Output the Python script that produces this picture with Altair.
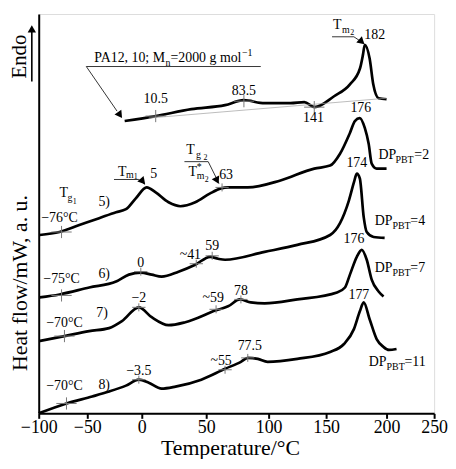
import altair as alt
import pandas as pd

# ---------------- data (temperature in °C, heat flow in arbitrary units) -------------
x_ticks = [-100, -50, 0, 50, 100, 150, 200, 250]

pa_t = [-15.7, 10.8, 38.5, 65.1, 80.0, 96.8, 119, 131, 140, 156.6, 169.7, 178, 180.5, 182, 186, 189, 193.4, 200]
pa_h = [295, 300, 307, 311, 316, 313, 313, 314, 309, 320, 332, 348, 362, 372, 358, 332, 318, 317]

dp2_t = [-99, -78.6, -58.2, -39.1, -23.6, -14.5, -5.5, 3.8, 10.8, 20.8, 30, 41.5, 53.2, 61.9, 67.5, 83.3,
         110.3, 139.7, 153.3, 161.5, 169.7, 173.8, 177.9, 182, 185.2, 187.7, 191.8, 200]
dp2_h = [180, 183, 190, 197, 203, 206, 217, 228, 223, 213, 209, 213, 222, 227, 228, 228,
         235, 247, 250, 262, 283, 295, 298, 288, 272, 252, 247, 247]

dp4_t = [-99, -78.6, -48.2, -23.6, -11.8, -0.9, 7.7, 15.4, 28.5, 41.5, 53.2, 59.5, 65.1, 96.8, 125,
         153.3, 161.5, 168.9, 173, 175.4, 177.9, 181.1, 183.6, 189.3, 198.4]
dp4_h = [117, 120, 127, 133, 140, 142, 140, 138, 143, 150, 158, 156, 155, 163, 170,
         180, 192, 215, 233, 242, 237, 198, 183, 178, 177]

dp7_t = [-99, -73.5, -48.2, -30, -18.2, -2.7, 7.7, 20.8, 33.8, 57.9, 67.5, 77, 85.7, 96.8, 125,
         159, 165.6, 169.7, 175.4, 179.5, 183.6, 187.7, 193.4, 197.5]
dp7_h = [73, 78, 83, 86, 93, 107, 97, 89, 92, 104, 108, 115, 112, 111, 115,
         122, 127, 140, 158, 165, 155, 135, 123, 118]

dp11_t = [-100, -71.4, -45.5, -30, -14.5, -2.7, 5.4, 15.4, 26.2, 46.2, 65.1, 77.8, 83.3, 91.3, 99.2,
          125, 153.3, 164.8, 173, 177.9, 181.1, 186, 191.8, 197.5, 202.5, 210.5]
dp11_h = [0, 10, 17, 22, 28, 34, 31, 25, 27, 34, 45, 52, 56, 55, 52,
          55, 62, 70, 85, 103, 112, 95, 75, 67, 64, 65]

# transition markers (crosses)
mark_t = [10.8, 80.2, 139.7, -76.5, 62.7, -76.5, -0.9, 42.3, 54.8, -73.5, -2.7, 57.9, 77.8, -71.4, -2.7, 65.1, 83.3]
mark_h = [300, 315, 309, 183, 228, 119, 143, 151, 159, 78, 107, 105, 115, 10, 34, 44, 56]
mark_big = [1, 1, 1, 1, 0, 1, 0, 0, 0, 1, 0, 0, 0, 1, 0, 0, 0]

# leader lines (segment id, t, h)
lead_seg = ["pa", "pa", "pa", "tm2", "tm2", "tm2", "tm1", "tm1", "tm1", "tg2", "tg2", "tg2", "endo", "endo", "base", "base"]
lead_t = [93.7, -51.0, -22.7, 154.9, 173, 180.3, -25.5, -2.7, 2.3, 33.1, 51.6, 60.3, -107.1, -107.1, 5.4, 200]
lead_h = [350, 350, 305, 380, 380, 374, 236, 236, 231, 254, 254, 232, 335, 385, 298, 318]

# arrow heads
head_t = [-20.0, 179.5, 0.8, 58.7, -107.1]
head_h = [301, 375, 234, 235, 388]
head_a = [145, 132, 139, 153, 0]

# labels centred
c_text = ["10.5", "83.5", "141", "182", "176", "174", "176", "177", "5)", "−76°C", "5", "63",
          "−75°C", "6)", "0", "~41", "59", "−70°C", "7)", "−2", "~59", "78",
          "−70°C", "8)", "−3.5", "~55", "77.5"]
c_t = [10.8, 80.2, 139, 190.2, 178.7, 175.4, 173, 177.1, -34.5, -78.6, 9.2, 65.9,
       -76.5, -34.5, -0.9, 37.7, 54.8, -73.5, -36.4, -2.7, 55.6, 77.8,
       -73.5, -34.5, -2.7, 61.9, 84.9]
c_h = [313, 321, 294, 378, 304, 249, 172, 115, 209, 193, 238, 237,
       132, 137, 148, 156, 165, 87, 97, 112, 112, 119,
       24, 25, 39, 49, 64]

# labels left-aligned (with sub/superscript pieces)
l_text = ["PA12, 10; M", "n", "=2000 g mol", "−1",
          "T", "m", "2",
          "DP", "PBT", "=2", "DP", "PBT", "=4", "DP", "PBT", "=7", "DP", "PBT", "=11",
          "T", "g", "1", "T", "m", "1",
          "T", "g", "2", "T", "*", "m", "2"]
l_t = [-43.6, 18.5, 22.3, 78.6,
       155.7, 163.1, 169.9,
       193.4, 209.4, 229.2, 190.2, 206.2, 225, 190.2, 206.2, 225, 185.2, 200, 218.8,
       -78.6, -70.4, -65.0, -21.8, -14.5, -7.3,
       34.6, 42.0, 48.0, 36.2, 42.6, 42.6, 48.8]
l_h = [355, 351, 355, 361,
       388, 384, 382,
       257, 253, 257, 190, 186, 190, 143, 139, 143, 48, 44, 48,
       218, 214, 211, 240, 238, 237,
       262, 258, 256, 240, 246, 236, 233]
l_lvl = [0, 1, 0, 1,
         0, 1, 2,
         0, 1, 0, 0, 1, 0, 0, 1, 0, 0, 1, 0,
         0, 1, 2, 0, 1, 2,
         0, 1, 2, 0, 1, 1, 2]

# ---------------- tables --------------------------------------------------------------
rows = []
for name, ts, hs in [("PA12,10", pa_t, pa_h), ("DP2", dp2_t, dp2_h), ("DP4", dp4_t, dp4_h),
                     ("DP7", dp7_t, dp7_h), ("DP11", dp11_t, dp11_h)]:
    for i, (t, h) in enumerate(zip(ts, hs)):
        rows.append({"series": name, "i": i, "t": t, "h": h})
curves_df = pd.DataFrame(rows)

marks_df = pd.DataFrame({"t": mark_t, "h": mark_h,
                         "sz": [420 if b else 180 for b in mark_big]})
lead_df = pd.DataFrame({"seg": lead_seg, "t": lead_t, "h": lead_h, "i": list(range(len(lead_t)))})
lead_df["w"] = lead_df["seg"].map({"endo": 1.6, "base": 0.7}).fillna(0.8)
lead_df["c"] = lead_df["seg"].map({"base": "#a0a0a0"}).fillna("black")
head_df = pd.DataFrame({"t": head_t, "h": head_h, "a": head_a})
ctext_df = pd.DataFrame({"t": c_t, "h": c_h, "txt": c_text})
ltext_df = pd.DataFrame({"t": l_t, "h": l_h, "txt": l_text,
                         "s": [[14, 10, 8][v] for v in l_lvl]})
endo_df = pd.DataFrame({"t": [-119.4], "h": [360], "txt": ["Endo"]})

FONT = "Liberation Serif, serif"

xscale = alt.Scale(domain=x_ticks, range=[0, 49, 104, 169, 232, 290, 351, 399], nice=False, zero=False)
yscale = alt.Scale(domain=[0, 403], nice=False, zero=False)

xaxis = alt.Axis(values=x_ticks, grid=False, domainColor="black", domainWidth=2,
                 tickColor="black", tickWidth=2, tickSize=5, labelFont=FONT, labelFontSize=18,
                 labelColor="black", labelPadding=0, labelFlush=False, labelOverlap=False,
                 title="Temperature/°C", titleFont=FONT, titleFontSize=22, titleFontWeight="normal",
                 titleColor="black", titleX=193, titleY=42, titleAlign="center",
                 titleBaseline="alphabetic")
yaxis = alt.Axis(labels=False, ticks=False, grid=False, domainColor="black", domainWidth=2,
                 title="Heat flow/mW, a. u.", titleFont=FONT, titleFontSize=22,
                 titleFontWeight="normal", titleColor="black", titleAngle=270, titleX=-19,
                 titleY=271, titleAlign="center", titleBaseline="middle")

X = alt.X("t:Q", scale=xscale, axis=xaxis)
Y = alt.Y("h:Q", scale=yscale, axis=yaxis)

curves = alt.Chart(curves_df).mark_line(color="black", strokeWidth=2.7, interpolate="monotone").encode(
    x=X, y=Y, detail="series:N", order="i:Q")

crosses = alt.Chart(marks_df).mark_point(shape="M-1,0L1,0M0,-0.6L0,0.6", filled=False,
                                         stroke="#777777", strokeWidth=1, opacity=1).encode(
    x=X, y=Y, size=alt.Size("sz:Q", scale=None))

leads = alt.Chart(lead_df).mark_line().encode(
    x=X, y=Y, detail="seg:N", order="i:Q",
    strokeWidth=alt.StrokeWidth("w:Q", scale=None), color=alt.Color("c:N", scale=None))

heads = alt.Chart(head_df).mark_point(shape="triangle-up", filled=True, color="black",
                                      size=70, opacity=1).encode(
    x=X, y=Y, angle=alt.Angle("a:Q", scale=None))

ctext = alt.Chart(ctext_df).mark_text(font=FONT, fontSize=14, align="center",
                                      baseline="alphabetic", color="black").encode(
    x=X, y=Y, text="txt:N")

ltext = alt.Chart(ltext_df).mark_text(font=FONT, align="left", baseline="alphabetic",
                                      color="black").encode(
    x=X, y=Y, text="txt:N", size=alt.Size("s:Q", scale=None))

endo = alt.Chart(endo_df).mark_text(font=FONT, fontSize=21, angle=270, align="center",
                                    baseline="middle", color="black").encode(
    x=X, y=Y, text="txt:N")

chart = alt.layer(curves, crosses, leads, heads, ctext, ltext, endo).properties(
    width=399, height=403,
    autosize=alt.AutoSizeParams(type="none"),
    padding={"left": 31, "top": 4, "right": 14, "bottom": 44},
).configure_view(stroke="black", strokeWidth=2).configure(background="white")

chart.save("out.html", embed_options={"renderer": "svg", "actions": False})
